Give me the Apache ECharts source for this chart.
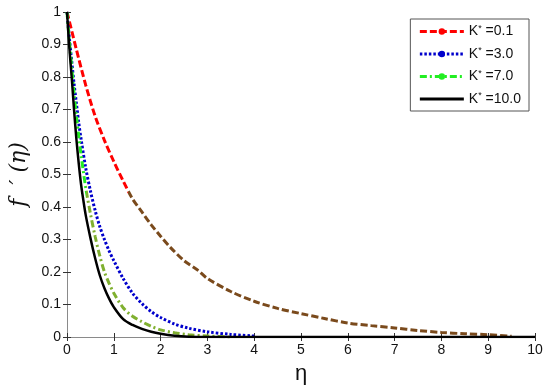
<!DOCTYPE html>
<html>
<head>
<meta charset="utf-8">
<script src="https://cdn.jsdelivr.net/npm/echarts@6/dist/echarts.min.js"></script>
<style>html,body{margin:0;padding:0;background:#fff;}#c{width:550px;height:386px;}</style>
</head>
<body>
<div id="c"></div>
<script>
// eta values and f'(eta) for each K*
var k01 = [[0,1.0],[0.2,0.885],[0.4,0.775],[0.6,0.68],[0.8,0.605],[1.0,0.54],[1.2,0.48],[1.4,0.425],[1.6,0.385],[1.8,0.345],[2.0,0.31],[2.2,0.277],[2.5,0.235],[2.8,0.205],[3.0,0.18],[3.5,0.14],[4.0,0.11],[4.5,0.088],[5.0,0.072],[5.5,0.057],[6.0,0.043],[6.5,0.035],[7.0,0.028],[7.5,0.02],[8.0,0.014],[8.5,0.01],[9.0,0.007],[9.5,0.002]];
var k30 = [[0,1.0],[0.05,0.92],[0.1,0.85],[0.15,0.78],[0.2,0.72],[0.25,0.66],[0.3,0.61],[0.4,0.52],[0.5,0.45],[0.6,0.39],[0.7,0.34],[0.8,0.30],[0.9,0.265],[1.0,0.235],[1.2,0.18],[1.4,0.135],[1.6,0.103],[1.8,0.078],[2.0,0.06],[2.3,0.04],[2.6,0.027],[3.0,0.016],[3.5,0.008],[4.0,0.003]];
var k70 = [[0,1.0],[0.05,0.91],[0.1,0.83],[0.15,0.75],[0.2,0.68],[0.25,0.62],[0.3,0.56],[0.4,0.46],[0.5,0.38],[0.6,0.31],[0.7,0.25],[0.8,0.2],[0.9,0.165],[1.0,0.135],[1.2,0.09],[1.4,0.064],[1.6,0.047],[1.8,0.033],[2.0,0.022],[2.3,0.013],[2.6,0.007],[3.0,0.003],[3.5,0.0]];
var k100 = [[0,1.0],[0.05,0.89],[0.1,0.8],[0.15,0.7],[0.2,0.61],[0.25,0.535],[0.3,0.47],[0.35,0.42],[0.4,0.375],[0.5,0.305],[0.6,0.243],[0.7,0.19],[0.8,0.15],[0.9,0.118],[1.0,0.092],[1.2,0.055],[1.4,0.037],[1.6,0.025],[1.8,0.016],[2.0,0.01],[2.3,0.004],[2.6,0.001],[3.0,0.0],[10.0,0.0]];
var kValues = ['0.1','3.0','7.0','10.0'];
var names = ['K* =0.1','K* =3.0','K* =7.0','K* =10.0'];

var font = 'Liberation Sans, Arial, sans-serif';
var chart = echarts.init(document.getElementById('c'));
var gray = '#8a8a8a';
function split(c1, c2, at){
  return new echarts.graphic.LinearGradient(0,0,1,0,[
    {offset:0,color:c1},{offset:at,color:c1},{offset:at,color:c2},{offset:1,color:c2}]);
}
function axisBase(extra){
  return Object.assign({
    axisLine:{show:true,lineStyle:{color:gray,width:1}},
    axisTick:{show:true,inside:true,length:4,lineStyle:{color:'#333'}},
    splitLine:{show:false}
  }, extra);
}
chart.setOption({
  animation:false,
  backgroundColor:'#fff',
  grid:{left:67,right:15,top:12,bottom:49,show:false,containLabel:false,outerBoundsMode:'none'},
  legend:{
    orient:'vertical', right:21, top:19,
    itemWidth:44, itemHeight:8, itemGap:8,
    backgroundColor:'#fff', borderColor:'#555', borderWidth:1,
    padding:[5,8,5,8],
    formatter:function(n){ var i = names.indexOf(n); return 'K{s|*} =' + kValues[i]; },
    textStyle:{fontFamily:font,fontSize:14,color:'#111',
      rich:{s:{fontFamily:font,fontSize:9,color:'#111',verticalAlign:'top',padding:[0,0,6,0]}}},
    data:[
      {name:names[0], itemStyle:{color:'#ff0000'}, lineStyle:{color:'#ff0000',type:[7,3],width:3}},
      {name:names[1], itemStyle:{color:'#0000cc'}, lineStyle:{color:'#0000cc',type:[2.5,2],width:3}},
      {name:names[2], itemStyle:{color:'#22ee22'}, lineStyle:{color:'#22ee22',type:[7,3,2,3],width:3}},
      {name:names[3], icon:'path://M0,0L44,0L44,3L0,3Z', itemStyle:{color:'#000'}}
    ]
  },
  xAxis:[
    axisBase({type:'value',min:0,max:10,interval:1,position:'bottom',
      name:'η',nameLocation:'middle',nameGap:26,
      nameTextStyle:{fontFamily:font,fontSize:22,color:'#111'},
      axisLabel:{fontFamily:font,fontSize:14,color:'#111',margin:6}}),
    axisBase({type:'value',min:0,max:10,interval:1,position:'top',axisLabel:{show:false}})
  ],
  yAxis:[
    axisBase({type:'value',min:0,max:1,interval:0.1,position:'left',
      name:'f  ′ (η)',nameLocation:'middle',nameGap:31,nameRotate:90,
      nameTextStyle:{fontFamily:'DejaVu Serif, serif',fontStyle:'italic',fontSize:22,color:'#111'},
      axisLabel:{fontFamily:font,fontSize:14,color:'#111',margin:6,
        formatter:function(v){return String(Math.round(v*10)/10);}}}),
    axisBase({type:'value',min:0,max:1,interval:0.1,position:'right',axisLabel:{show:false}})
  ],
  series:[
    {name:names[0],type:'line',data:k01,smooth:0.3,symbol:'circle',symbolSize:6,showSymbol:false,
      itemStyle:{color:'#ff0000'},lineStyle:{color:split('#ff0000','#7a4a1c',1.35/9.5),type:[7,3],width:3},z:2},
    {name:names[1],type:'line',data:k30,smooth:0.3,symbol:'circle',symbolSize:6,showSymbol:false,
      itemStyle:{color:'#0000cc'},lineStyle:{color:'#0000cc',type:[2.5,2],width:3},z:3},
    {name:names[2],type:'line',data:k70,smooth:0.3,symbol:'circle',symbolSize:6,showSymbol:false,
      itemStyle:{color:'#22ee22'},lineStyle:{color:split('#22ee22','#80b030',0.45/3.5),type:[7,3,2,3],width:3},z:4},
    {name:names[3],type:'line',data:k100,smooth:0.3,symbol:'none',showSymbol:false,
      itemStyle:{color:'#000'},lineStyle:{color:'#000',width:2.5},z:5}
  ]
});
</script>
</body>
</html>
